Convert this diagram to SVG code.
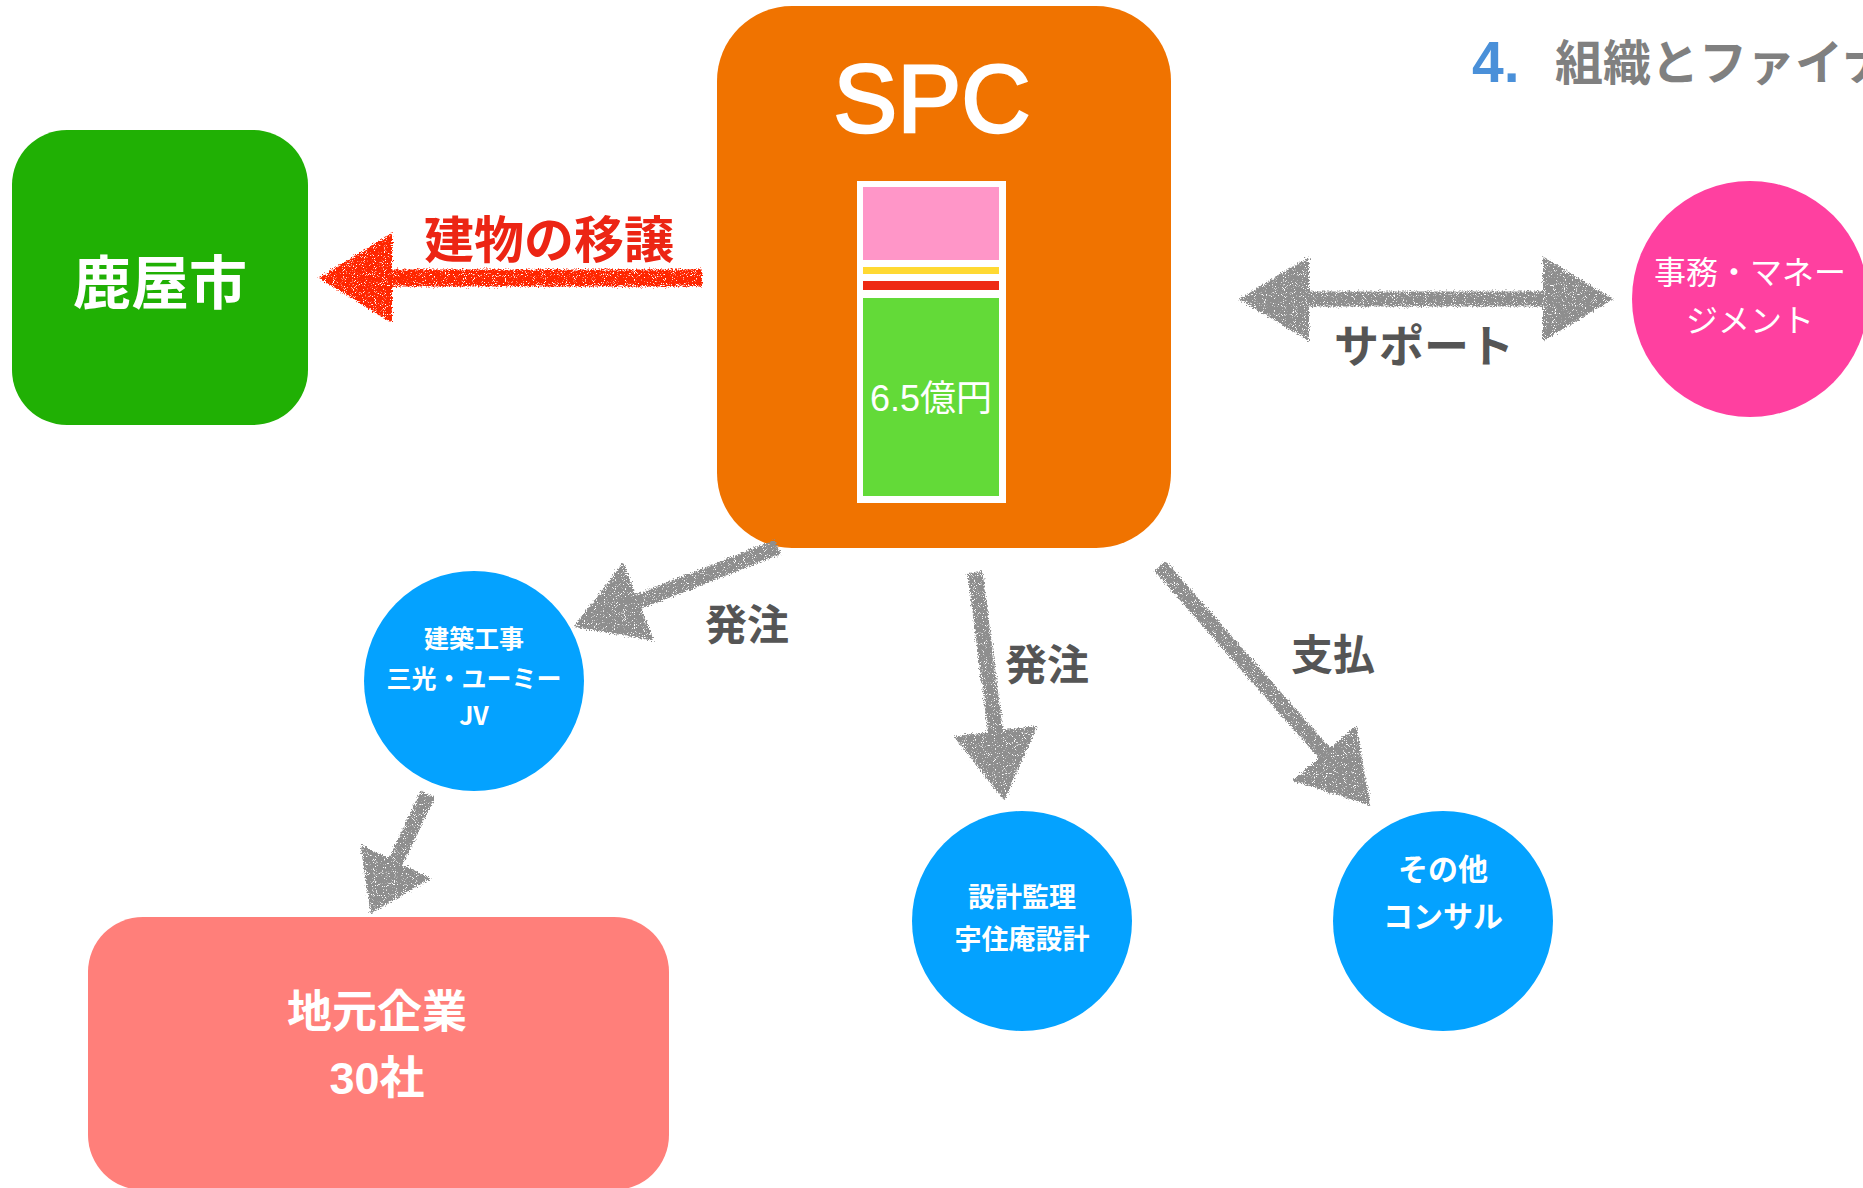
<svg xmlns="http://www.w3.org/2000/svg" width="1863" height="1188" viewBox="0 0 1863 1188">
  <style>
    .jp { font-family: "Noto Sans CJK JP", sans-serif; }
    .mix { font-family: "Liberation Sans", "Noto Sans CJK JP", sans-serif; }
    .w { fill: #FFFFFF; }
    .b { font-weight: bold; }
    .lbl { fill: #555555; font-weight: bold; font-size: 42px; }
    .c { text-anchor: middle; dominant-baseline: central; }
    .chalk { fill: none; stroke: #8E8E8E; stroke-width: 15; stroke-linecap: butt; }
  </style>
  <defs>
    <filter id="chalk" x="-20%" y="-20%" width="140%" height="140%">
      <feTurbulence type="fractalNoise" baseFrequency="0.75" numOctaves="3" seed="4" result="noise"/>
      <feDisplacementMap in="SourceGraphic" in2="noise" scale="7" xChannelSelector="R" yChannelSelector="G" result="d"/>
      <feTurbulence type="fractalNoise" baseFrequency="1.1" numOctaves="1" seed="9" result="n2"/>
      <feColorMatrix in="n2" type="matrix" values="0 0 0 0 0  0 0 0 0 0  0 0 0 0 0  9 0 0 0 -2.6" result="m"/>
      <feComposite in="d" in2="m" operator="in"/>
    </filter>
    <marker id="hg" markerUnits="userSpaceOnUse" viewBox="0 0 70 84" markerWidth="70" markerHeight="84" refX="4" refY="42" orient="auto-start-reverse">
      <path d="M0,0 L70,42 L0,84 Z" fill="#8E8E8E"/>
    </marker>
    <marker id="hgs" markerUnits="userSpaceOnUse" viewBox="0 0 58 78" markerWidth="58" markerHeight="78" refX="4" refY="39" orient="auto">
      <path d="M0,0 L58,39 L0,78 Z" fill="#8E8E8E"/>
    </marker>
    <marker id="hr" markerUnits="userSpaceOnUse" viewBox="0 0 73 90" markerWidth="73" markerHeight="90" refX="4" refY="45" orient="auto">
      <path d="M0,0 L73,45 L0,90 Z" fill="#FF2600"/>
    </marker>
  </defs>

  <rect width="1863" height="1188" fill="#FFFFFF"/>

  <g id="title">
    <text x="1472" y="82" font-family="Liberation Sans, sans-serif" font-weight="bold" font-size="57" fill="#4A90D9">4.</text>
    <text x="1555" y="80" class="jp b" font-size="48" fill="#808080">組織とファイナ</text>
  </g>

  <g id="kanoya">
    <rect x="12" y="130" width="296" height="295" rx="55" fill="#20B004"/>
    <text x="160" y="279" class="jp b w c" font-size="58">鹿屋市</text>
  </g>

  <g id="spc">
    <rect x="717" y="6" width="454" height="542" rx="75" fill="#F07300"/>
    <text x="932" y="132" class="mix w" text-anchor="middle" font-size="96" stroke="#FFFFFF" stroke-width="2.5">SPC</text>
    <rect x="857" y="181" width="149" height="322" fill="#FFFFFF"/>
    <rect x="863" y="187" width="136" height="73" fill="#FF96C8"/>
    <rect x="863" y="267" width="136" height="7" fill="#FFD932"/>
    <rect x="863" y="281" width="136" height="9" fill="#EE2A14"/>
    <rect x="863" y="298" width="136" height="198" fill="#63DA38"/>
    <text x="931" y="411" class="mix w" text-anchor="middle" font-size="36">6.5億円</text>
  </g>

  <g id="management">
    <circle cx="1750" cy="299" r="118" fill="#FF40A0"/>
    <text x="1750" y="270" class="jp w c" font-size="32">事務・マネー</text>
    <text x="1750" y="318" class="jp w c" font-size="32">ジメント</text>
  </g>

  <g id="construction">
    <circle cx="474" cy="681" r="110" fill="#04A2FF"/>
    <text x="474" y="637" class="jp b w c" font-size="25">建築工事</text>
    <text x="474" y="677" class="jp b w c" font-size="25">三光・ユーミー</text>
    <text x="474" y="714" class="jp b w c" font-size="25">JV</text>
  </g>

  <g id="design">
    <circle cx="1022" cy="921" r="110" fill="#04A2FF"/>
    <text x="1022" y="895" class="jp b w c" font-size="27">設計監理</text>
    <text x="1022" y="937" class="jp b w c" font-size="27">宇住庵設計</text>
  </g>

  <g id="consul">
    <circle cx="1443" cy="921" r="110" fill="#04A2FF"/>
    <text x="1443" y="867" class="jp b w c" font-size="30">その他</text>
    <text x="1443" y="914" class="jp b w c" font-size="30">コンサル</text>
  </g>

  <g id="local">
    <rect x="88" y="917" width="581" height="273" rx="55" fill="#FF7F7A"/>
    <text x="377" y="1008" class="jp b w c" font-size="45">地元企業</text>
    <text x="377" y="1078" class="mix b w c" font-size="45">30社</text>
  </g>

  <g id="connectors" filter="url(#chalk)">
    <line x1="702" y1="278" x2="388" y2="278" stroke="#FF2600" stroke-width="17" marker-end="url(#hr)"/>
    <line class="chalk" x1="1305" y1="299" x2="1547" y2="299" marker-start="url(#hg)" marker-end="url(#hg)"/>
    <line class="chalk" x1="778" y1="547" x2="635" y2="603" marker-end="url(#hg)"/>
    <line class="chalk" x1="975" y1="572" x2="996" y2="735" marker-end="url(#hg)"/>
    <line class="chalk" x1="1160" y1="566" x2="1327" y2="756" marker-end="url(#hg)"/>
    <line class="chalk" x1="428" y1="794" x2="394" y2="865" marker-end="url(#hgs)"/>
  </g>

  <g id="labels">
    <text x="549" y="236" class="jp b c" font-size="50" fill="#EC2514">建物の移譲</text>
    <text x="1424" y="343" class="jp c" font-size="45" font-weight="bold" fill="#555555">サポート</text>
    <text x="747" y="621" class="jp lbl c">発注</text>
    <text x="1047" y="661" class="jp lbl c">発注</text>
    <text x="1333" y="651" class="jp lbl c">支払</text>
  </g>
</svg>
